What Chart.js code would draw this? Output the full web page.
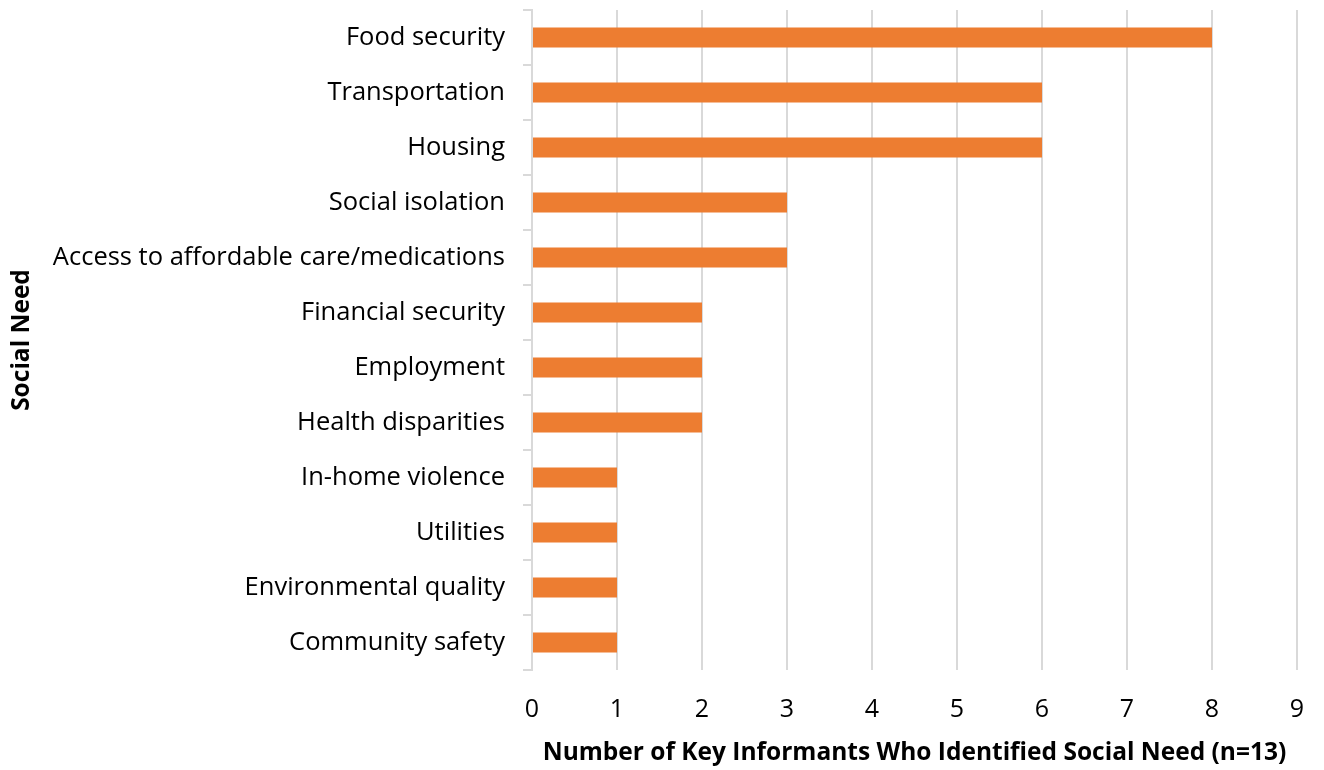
<!DOCTYPE html>
<html><head><meta charset="utf-8">
<script src="https://cdn.jsdelivr.net/npm/chart.js@4"></script>
<style>html,body{margin:0;padding:0;background:#fff}#wrap{width:1324px;height:770px}</style>
</head><body><div id="wrap"><canvas id="c" width="1324" height="770"></canvas></div>
<script>
const categories = ["Food security","Transportation","Housing","Social isolation","Access to affordable care/medications","Financial security","Employment","Health disparities","In-home violence","Utilities","Environmental quality","Community safety"];
const counts = [8,6,6,3,3,2,2,2,1,1,1,1];
const xTicks = [0,1,2,3,4,5,6,7,8,9];
const xTitle = "Number of Key Informants Who Identified Social Need (n=13)";
const yTitle = "Social Need";
const FONT = "'Open Sans', sans-serif";

new Chart(document.getElementById('c'), {
  type: 'bar',
  data: { labels: categories, datasets: [{ data: counts, backgroundColor: '#ED7D31', barPercentage: 0.73, categoryPercentage: 0.5 }] },
  options: {
    indexAxis: 'y', responsive: false, animation: false,
    layout: { padding: { top: 10, right: 27, left: 0, bottom: 0 } },
    plugins: { legend: { display: false }, tooltip: { enabled: false } },
    scales: {
      x: {
        min: 0, max: 9,
        afterBuildTicks: s => { s.ticks = xTicks.map(v => ({ value: v })); },
        afterFit: s => { s.height = 100; s.paddingLeft = 0; s.paddingRight = 0; },
        grid: { color: '#d9d9d9', lineWidth: 2, drawTicks: false },
        border: { display: false },
        ticks: { padding: 25, color: '#000', font: { family: FONT, size: 25 } },
        title: { display: true, text: xTitle, color: '#000', font: { family: FONT, size: 24.5, weight: 'bold' }, padding: { top: 6, bottom: 2 } }
      },
      y: {
        afterFit: s => { s.width = 532; s.paddingTop = 0; s.paddingBottom = 0; },
        grid: { offset: true, drawOnChartArea: false, color: '#d9d9d9', lineWidth: 2, tickLength: 9 },
        border: { display: true, color: '#d9d9d9', width: 2 },
        ticks: { padding: 18, color: '#000', font: { family: FONT, size: 25.5 } },
        title: { display: true, text: yTitle, color: '#000', font: { family: FONT, size: 24.5, weight: 'bold' }, padding: { top: 7, bottom: 0 } }
      }
    }
  }
});
</script></body></html>
